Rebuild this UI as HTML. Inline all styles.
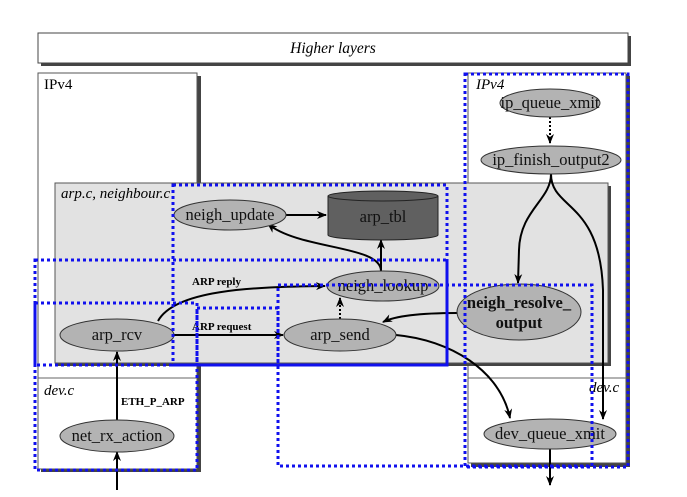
<!DOCTYPE html>
<html><head><style>body{margin:0;background:#fff}svg{display:block}</style></head><body>
<svg width="687" height="497" viewBox="0 0 687 497" xmlns="http://www.w3.org/2000/svg" font-family="Liberation Serif, serif">
<defs>
<marker id="a" markerWidth="10" markerHeight="8" refX="9" refY="4" orient="auto" markerUnits="userSpaceOnUse"><path d="M0,0 L10,4 L0,8 L3,4 z" fill="#000"/></marker>
</defs>
<rect x="41" y="36" width="590" height="30" fill="#444"/>
<rect x="38" y="33" width="590" height="30" fill="#fff" stroke="#444" stroke-width="1"/>
<text x="333" y="53" font-size="15.5" font-style="italic" text-anchor="middle">Higher layers</text>
<rect x="41" y="76" width="160" height="396" fill="#444"/>
<rect x="38" y="73" width="159" height="396" fill="#fff" stroke="#555"/>
<text x="44" y="89" font-size="15">IPv4</text>
<line x1="38" y1="378" x2="197" y2="378" stroke="#666"/>
<text x="44" y="395" font-size="15" font-style="italic">dev.c</text>
<rect x="471" y="76" width="159" height="391" fill="#444"/>
<rect x="468" y="73" width="158" height="390" fill="#fff" stroke="#555"/>
<text x="476" y="89" font-size="15" font-style="italic">IPv4</text>
<line x1="468" y1="378" x2="626" y2="378" stroke="#666"/>
<text x="589" y="392" font-size="15" font-style="italic">dev.c</text>
<rect x="58" y="186" width="553" height="180" fill="#444"/>
<rect x="55" y="183" width="553" height="180" fill="#e2e2e2" stroke="#555"/>
<text x="61" y="198" font-size="15" font-style="italic">arp.c, neighbour.c</text>
<g stroke="#000" stroke-width="2" fill="none">
<path d="M550,117 L550,143" stroke-dasharray="2,2" marker-end="url(#a)"/>
<path d="M551,174 C551,200 520,210 519,250 L518,283" marker-end="url(#a)"/>
<path d="M551,174 C551,210 600,200 603,290 L603,419" marker-end="url(#a)"/>
<path d="M286,215 L326,215" marker-end="url(#a)"/>
<path d="M381,271 C381,245 300,250 268,224" marker-end="url(#a)"/>
<path d="M381,271 L381,240" marker-end="url(#a)"/>
<path d="M158,321 C175,290 250,287 325,286" marker-end="url(#a)"/>
<path d="M174,335 L283,335" marker-end="url(#a)"/>
<path d="M340,319 L340,298" stroke-dasharray="2,2" marker-end="url(#a)"/>
<path d="M457,313 C420,313 395,316 383,322" marker-end="url(#a)"/>
<path d="M396,335 C450,340 500,370 510,418" marker-end="url(#a)"/>
<path d="M117,420 L117,352" marker-end="url(#a)"/>
<path d="M117,490 L117,452" marker-end="url(#a)"/>
<path d="M550,448 L550,485" marker-end="url(#a)"/>
</g>
<g fill="#b3b3b3" stroke="#333" stroke-width="1">
<ellipse cx="550" cy="103" rx="50" ry="14"/>
<ellipse cx="551" cy="160" rx="70" ry="14"/>
<ellipse cx="230" cy="215" rx="56" ry="15"/>
<ellipse cx="383" cy="286" rx="56" ry="15"/>
<ellipse cx="117" cy="335" rx="57" ry="16"/>
<ellipse cx="340" cy="335" rx="56" ry="16"/>
<ellipse cx="519" cy="312" rx="62" ry="28"/>
<ellipse cx="117" cy="436" rx="57" ry="16"/>
<ellipse cx="550" cy="434" rx="66" ry="15"/>
</g>
<path d="M328,196 L328,235 A55,5 0 0 0 438,235 L438,196" fill="#606060" stroke="#222"/>
<ellipse cx="383" cy="196" rx="55" ry="5" fill="#606060" stroke="#222"/>
<g font-size="16.5" text-anchor="middle" fill="#111">
<text x="550" y="108">ip_queue_xmit</text>
<text x="551" y="165">ip_finish_output2</text>
<text x="230" y="220">neigh_update</text>
<text x="383" y="222">arp_tbl</text>
<text x="383" y="291">neigh_lookup</text>
<text x="117" y="340">arp_rcv</text>
<text x="340" y="340">arp_send</text>
<text x="117" y="441">net_rx_action</text>
<text x="550" y="439">dev_queue_xmit</text>
<text x="519" y="308" font-weight="bold">neigh_resolve_</text>
<text x="519" y="328" font-weight="bold">output</text>
</g>
<g font-size="11" font-weight="bold">
<text x="192" y="285">ARP reply</text>
<text x="192" y="330">ARP request</text>
<text x="121" y="405">ETH_P_ARP</text>
</g>
<g fill="none" stroke="#1010ee" stroke-width="3" stroke-dasharray="3,3">
<rect x="173" y="185" width="274" height="180"/>
<rect x="35" y="260" width="412" height="105"/>
<rect x="35" y="303" width="162" height="167"/>
<rect x="197" y="308" width="81" height="57"/>
<rect x="278" y="285" width="314" height="181"/>
<rect x="465" y="74" width="163" height="393"/>
</g>
</svg>
</body></html>
